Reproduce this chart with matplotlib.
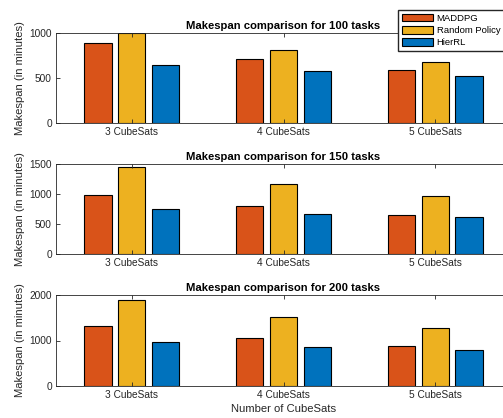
import matplotlib
matplotlib.use('Agg')
import matplotlib.pyplot as plt
import numpy as np

# 各卫星数量下的完工时间（分钟）
categories = ['3 CubeSats', '4 CubeSats', '5 CubeSats']
methods = ['MADDPG', 'Random Policy', 'HierRL']
colors = ['#D95319', '#EDB120', '#0072BD']

tasks = [100, 150, 200]
maddpg = [[892, 714, 592], [988, 795, 655], [1316, 1052, 875]]
random_policy = [[1000, 807, 674], [1445, 1161, 961], [1890, 1506, 1264]]
hierrl = [[641, 574, 519], [755, 672, 611], [977, 860, 787]]

y_limits = [1000, 1500, 2000]
y_ticks = [[0, 500, 1000], [0, 500, 1000, 1500], [0, 1000, 2000]]

plt.rcParams['font.family'] = ['Liberation Sans', 'DejaVu Sans']
plt.rcParams['font.size'] = 7.3

W, H = 503, 418
fig = plt.figure(figsize=(W / 100, H / 100), dpi=100)

axis_color = '#262626'
panel_boxes = [(56, 33, 123), (56, 164, 254), (56, 295, 386)]  # 左、上、下（像素）
right_px = 511

x = np.arange(1, len(categories) + 1)
offset = 0.224
bar_width = 0.18

for i, (left, top, bottom) in enumerate(panel_boxes):
    ax = fig.add_axes([left / W, (H - bottom) / H, (right_px - left) / W, (bottom - top) / H])
    series = [maddpg[i], random_policy[i], hierrl[i]]
    for j, vals in enumerate(series):
        ax.bar(x + (j - 1) * offset, vals, width=bar_width, color=colors[j],
               edgecolor='black', linewidth=0.8, label=methods[j])
    ax.set_xlim(0.5, 3.5)
    ax.set_ylim(0, y_limits[i])
    ax.set_xticks(x)
    ax.set_xticklabels(categories)
    ax.set_yticks(y_ticks[i])
    ax.tick_params(direction='in', length=3, width=0.6, colors=axis_color,
                   top=True, right=True, pad=3)
    for sp in ax.spines.values():
        sp.set_color(axis_color)
        sp.set_linewidth(0.6)
    ax.set_title(f'Makespan comparison for {tasks[i]} tasks', fontweight='bold',
                 fontsize=8.1, pad=3)
    ax.set_ylabel('Makespan (in minutes)', color=axis_color, fontsize=8.1, labelpad=3)
    if i == 0:
        handles, labels = ax.get_legend_handles_labels()
    if i == 2:
        ax.set_xlabel('Number of CubeSats', color=axis_color, fontsize=8.1, labelpad=3)

fig.legend(handles, labels, loc='upper left', bbox_to_anchor=(398 / W, (H - 10) / H),
           frameon=True, fancybox=False, framealpha=1, edgecolor=axis_color,
           handlelength=3.3, handleheight=0.85, handletextpad=0.4,
           borderpad=0.4, labelspacing=0.35, borderaxespad=0, fontsize=6.8)

fig.savefig('out.png', dpi=100)
plt.close(fig)
